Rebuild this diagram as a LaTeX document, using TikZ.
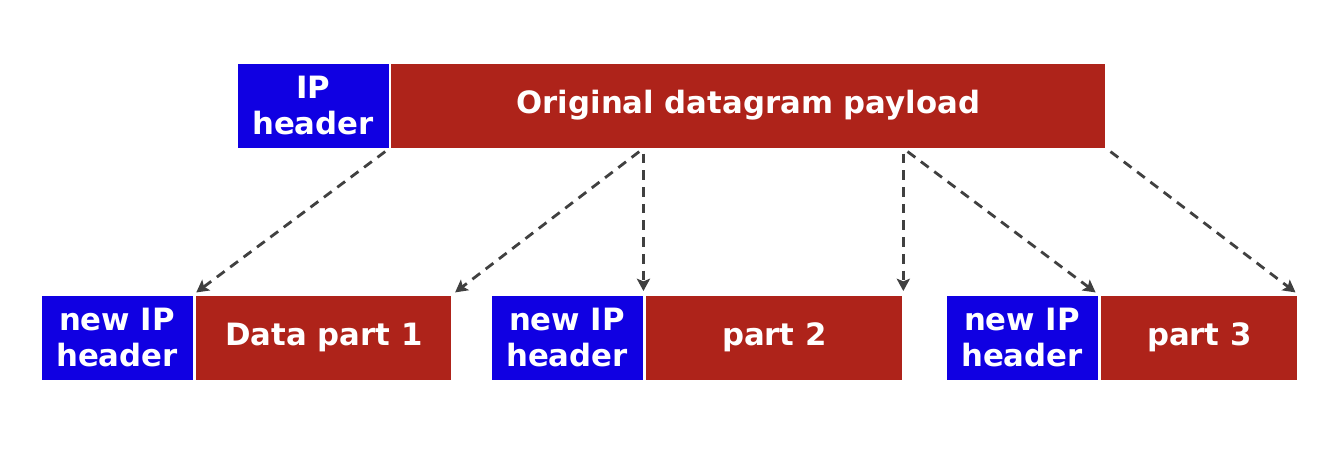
\documentclass[tikz,border=0pt]{standalone}
\usepackage{fontspec}
\setmainfont{DejaVu Sans}
\usetikzlibrary{positioning,arrows.meta}
\definecolor{hdrblue}{RGB}{16,0,226}
\definecolor{payred}{RGB}{174,35,26}
\definecolor{arrgray}{RGB}{64,64,64}
\tikzset{
  hdr/.style={rectangle, fill=hdrblue, draw=white, line width=0.5pt,
    minimum width=3.04cm, minimum height=1.7cm, inner sep=0pt,
    text=white, align=center, font=\bfseries\fontsize{17.5}{20}\selectfont},
  pay/.style={hdr, fill=payred},
  frag/.style={->, arrgray, line width=1.6pt, dash pattern=on 5.5pt off 4pt,
    shorten >=2pt, shorten <=3pt}
}
\begin{document}
\begin{tikzpicture}[>={Stealth[length=7pt,width=7.5pt,inset=1.5pt]}]
    \useasboundingbox (0,0) rectangle (26.6,9.04);
    % Original datagram
    \node[hdr] (iphdr) at (6.26,6.93) {IP\\header};
    \node[pay, minimum width=14.3cm, right=0.02cm of iphdr] (orig) {Original datagram payload};
    % Fragments
    \node[hdr] (nh1) at (2.34,2.29) {new IP\\header};
    \node[pay, minimum width=5.12cm, right=0.04cm of nh1] (part1) {Data part 1};
    \node[hdr] (nh2) at (11.34,2.29) {new IP\\header};
    \node[pay, minimum width=5.14cm, right=0.04cm of nh2] (part2) {part 2};
    \node[hdr] (nh3) at (20.44,2.29) {new IP\\header};
    \node[pay, minimum width=3.94cm, right=0.04cm of nh3] (part3) {part 3};
    % Cut points in the payload
    \coordinate (cut1) at (nh2.north east |- orig.south);
    \coordinate (cut2) at (part2.north east |- orig.south);
    % Dashed arrows
    \draw[frag] (iphdr.south east) -- (nh1.north east);
    \draw[frag] (cut1) -- (part1.north east);
    \draw[frag] (cut1) -- (nh2.north east);
    \draw[frag] (cut2) -- (part2.north east);
    \draw[frag] (cut2) -- (nh3.north east);
    \draw[frag] (orig.south east) -- (part3.north east);
\end{tikzpicture}
\end{document}
